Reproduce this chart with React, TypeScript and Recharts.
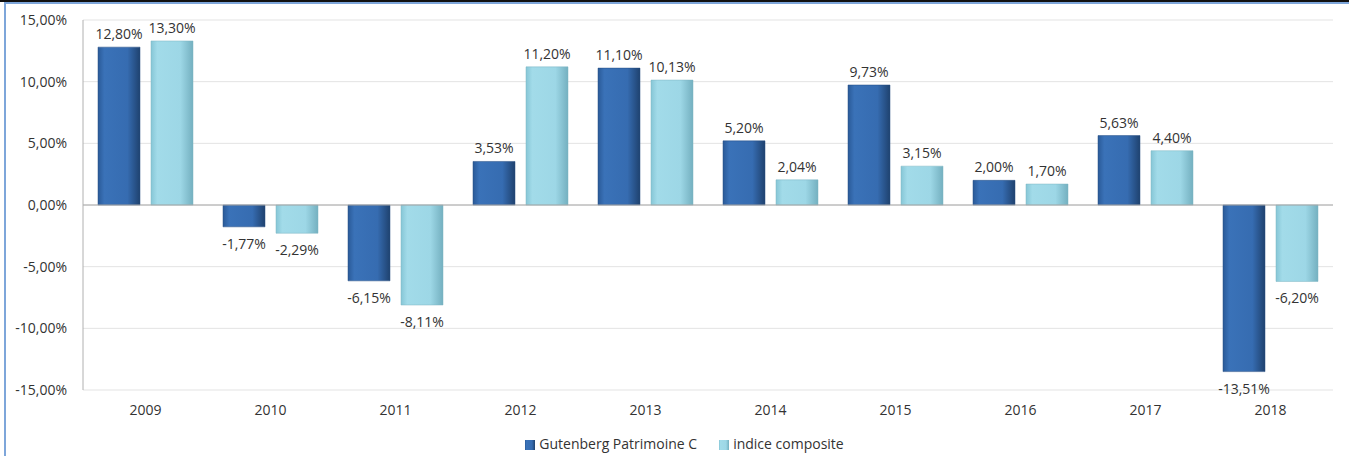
import React from 'react';
import { BarChart, Bar, XAxis, YAxis, CartesianGrid, Legend, LabelList, ReferenceLine } from 'recharts';

const years = ['2009', '2010', '2011', '2012', '2013', '2014', '2015', '2016', '2017', '2018'];
const gutenberg = [12.8, -1.77, -6.15, 3.53, 11.1, 5.2, 9.73, 2.0, 5.63, -13.51];
const composite = [13.3, -2.29, -8.11, 11.2, 10.13, 2.04, 3.15, 1.7, 4.4, -6.2];
const yTicks = [-15, -10, -5, 0, 5, 10, 15];

const data = years.map((year, i) => ({ year, gutenberg: gutenberg[i], composite: composite[i] }));

const fmt = (v: number) => v.toFixed(2).replace('.', ',') + '%';
const FONT = '"Open Sans", sans-serif';
const FS = 14;

const renderLabel = (props: any) => {
  const { x, y, width, height, value } = props;
  const top = Math.min(y, y + height);
  const bottom = Math.max(y, y + height);
  const cx = x + width / 2;
  const ty = value >= 0 ? top - 8 : bottom + 22;
  return (
    <text x={cx} y={ty} textAnchor="middle" fontSize={FS} fill="#333" fontFamily={FONT}>
      {fmt(value)}
    </text>
  );
};

const App: React.FC = () => {
  return (
    <div style={{ position: 'absolute', left: 0, top: 0, width: 1349, height: 456, background: '#fff', overflow: 'hidden' }}>
      <div style={{ position: 'absolute', left: 0, top: 0, width: 1349, height: 2, background: '#111' }} />
      <div style={{ position: 'absolute', left: 4, top: 2, width: 1345, height: 2, background: '#7ea6da' }} />
      <div style={{ position: 'absolute', left: 4, top: 2, width: 2, height: 454, background: '#7ea6da' }} />
      <BarChart
        width={1349}
        height={456}
        data={data}
        margin={{ top: 20, right: 16, bottom: 3, left: 0 }}
        barCategoryGap={15}
        barGap={11}
        style={{ fontFamily: FONT }}
      >
        <defs>
          <linearGradient id="gBlue" x1="0" y1="0" x2="1" y2="0">
            <stop offset="0%" stopColor="#2a5a98" />
            <stop offset="15%" stopColor="#3a72b8" />
            <stop offset="70%" stopColor="#366cb1" />
            <stop offset="100%" stopColor="#1f426f" />
          </linearGradient>
          <linearGradient id="gCyan" x1="0" y1="0" x2="1" y2="0">
            <stop offset="0%" stopColor="#86c6d6" />
            <stop offset="15%" stopColor="#a2dbe9" />
            <stop offset="70%" stopColor="#9dd7e6" />
            <stop offset="100%" stopColor="#74b0c0" />
          </linearGradient>
        </defs>
        <CartesianGrid vertical={false} stroke="#e3e3e3" />
        <XAxis
          dataKey="year"
          axisLine={false}
          tickLine={false}
          tickMargin={9}
          height={44}
          tick={{ fill: '#333', fontSize: FS, fontFamily: FONT }}
        />
        <YAxis
          domain={[-15, 15]}
          ticks={yTicks}
          tickFormatter={fmt}
          width={83}
          axisLine={{ stroke: '#b0b0b0' }}
          tickLine={false}
          tickMargin={10}
          tick={{ fill: '#333', fontSize: FS, fontFamily: FONT }}
        />
        <ReferenceLine y={0} stroke="#a8a8a8" />
        <Legend
          verticalAlign="bottom"
          iconType="square"
          iconSize={10}
          wrapperStyle={{ fontSize: FS, fontFamily: FONT, color: '#333', left: 29 }}
          formatter={(value: string) => <span style={{ color: '#333', marginRight: 12 }}>{value}</span>}
        />
        <Bar dataKey="gutenberg" name="Gutenberg Patrimoine C" fill="url(#gBlue)" stroke="#244c80" strokeWidth={0.5} isAnimationActive={false}>
          <LabelList dataKey="gutenberg" content={renderLabel} />
        </Bar>
        <Bar dataKey="composite" name="indice composite" fill="url(#gCyan)" stroke="#7db4c2" strokeWidth={0.5} isAnimationActive={false}>
          <LabelList dataKey="composite" content={renderLabel} />
        </Bar>
      </BarChart>
    </div>
  );
};

export default App;
